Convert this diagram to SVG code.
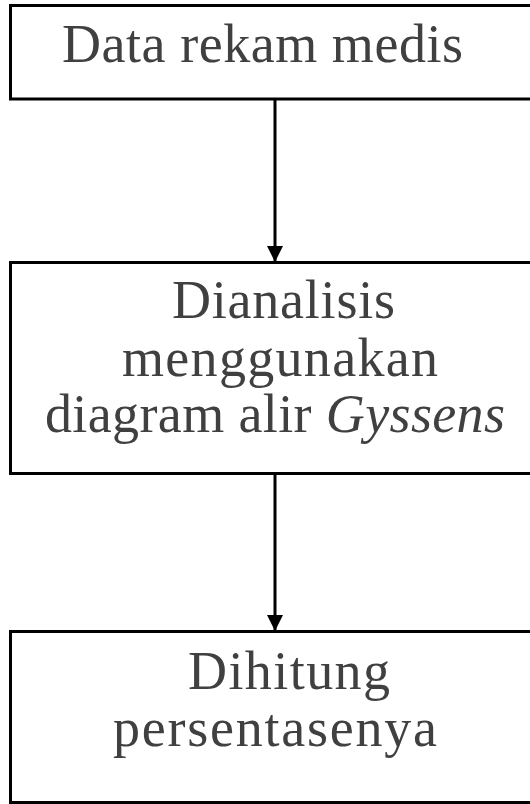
<svg xmlns="http://www.w3.org/2000/svg" width="530" height="804" viewBox="0 0 530 804">
<style>
.box{fill:#fff;stroke:#000;stroke-width:3}
.t{font-family:"Liberation Serif",serif;font-size:54px;fill:#404040;text-anchor:middle}
.c{stroke:#000;stroke-width:3;fill:none}
</style>
<defs>
<marker id="ah" markerUnits="userSpaceOnUse" markerWidth="16" markerHeight="16" refX="16" refY="8" orient="auto">
<path d="M0,0 L16,8 L0,16 Z" fill="#000"/>
</marker>
</defs>
<rect width="530" height="804" fill="#fff"/>
<g id="node1">
<rect class="box" x="10.5" y="5.5" width="530" height="93.5"/>
<text class="t" x="262.5" y="62" textLength="401" lengthAdjust="spacing">Data rekam medis</text>
</g>
<g id="node2">
<rect class="box" x="10.5" y="262.5" width="530" height="211"/>
<text class="t" x="283.5" y="318" textLength="223" lengthAdjust="spacing">Dianalisis</text>
<text class="t" x="280" y="376" textLength="316" lengthAdjust="spacing">menggunakan</text>
<text class="t" x="275" y="432" textLength="460" lengthAdjust="spacing">diagram alir <tspan font-style="italic">Gyssens</tspan></text>
</g>
<g id="node3">
<rect class="box" x="10.5" y="631.5" width="530" height="171"/>
<text class="t" x="289" y="689" textLength="202" lengthAdjust="spacing">Dihitung</text>
<text class="t" x="275" y="746" textLength="324" lengthAdjust="spacing">persentasenya</text>
</g>
<g id="connectors">
<line class="c" x1="275" y1="100" x2="275" y2="262" marker-end="url(#ah)"/>
<line class="c" x1="275" y1="474" x2="275" y2="631" marker-end="url(#ah)"/>
</g>
</svg>
